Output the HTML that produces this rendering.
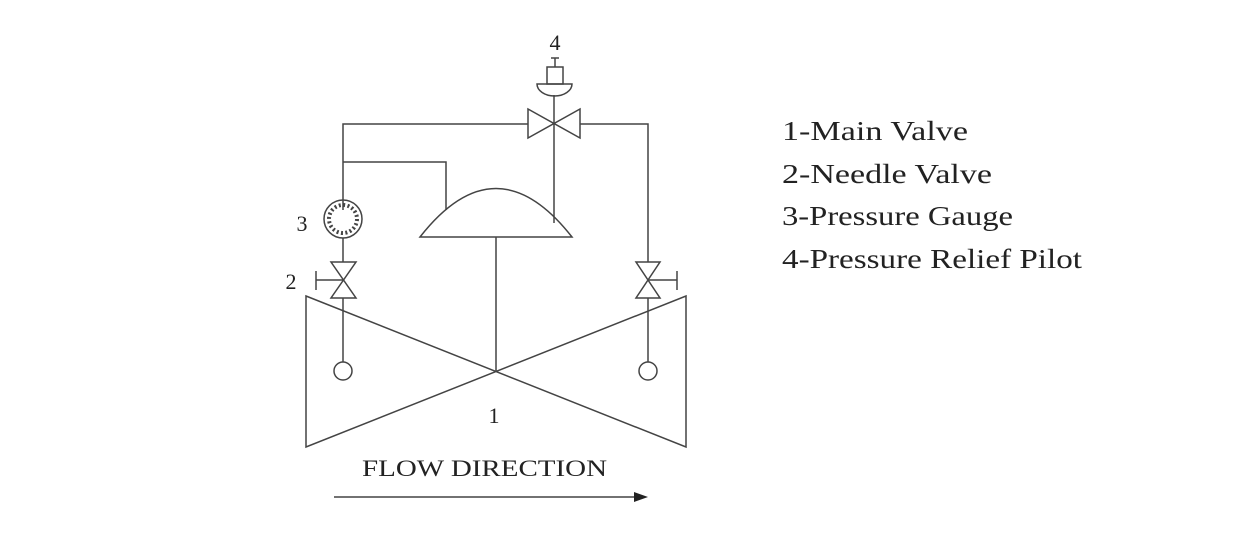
<!DOCTYPE html>
<html><head><style>body{margin:0;background:#fff}svg{display:block}text{font-family:"Liberation Serif",serif;fill:#222}</style></head>
<body>
<svg width="1237" height="540" viewBox="0 0 1237 540" xmlns="http://www.w3.org/2000/svg">
<g stroke="#444" stroke-width="1.5" fill="none">
<polyline points="343,210 343,124 528,124"/>
<polyline points="580,124 648,124 648,262"/>
<polygon points="528,109 528,138 580,109 580,138"/>
<line x1="554" y1="95" x2="554" y2="223"/>
<path d="M537,84 A17.5,12 0 0 0 572,84 Z"/>
<rect x="547" y="67" width="16" height="17"/>
<line x1="555" y1="58" x2="555" y2="67"/><line x1="551" y1="58" x2="559" y2="58"/>
<polyline points="343,162 446,162 446,210"/>
<path d="M420,237 Q496,140 572,237 Z"/>
<line x1="496" y1="237" x2="496" y2="371"/>
<circle cx="343" cy="219" r="19"/>
<circle cx="343" cy="219" r="14" stroke-dasharray="2 2.4" stroke-width="4"/>
<line x1="343" y1="238" x2="343" y2="262"/>
<polygon points="331,262 356,262 331,298 356,298"/>
<line x1="316" y1="280" x2="343" y2="280"/><line x1="316" y1="271" x2="316" y2="290"/>
<line x1="343" y1="298" x2="343" y2="362"/>
<circle cx="343" cy="371" r="9"/>
<polygon points="636,262 660,262 636,298 660,298"/>
<line x1="648" y1="280" x2="677" y2="280"/><line x1="677" y1="271" x2="677" y2="290"/>
<line x1="648" y1="298" x2="648" y2="362"/>
<circle cx="648" cy="371" r="9"/>
<polygon points="306,296 686,447 686,296 306,447"/>
<line x1="334" y1="497" x2="636" y2="497"/>
</g>
<polygon points="648,497 634,492 634,502" fill="#222"/>
<text x="555" y="50" font-size="22" text-anchor="middle">4</text>
<text x="302" y="231" font-size="22" text-anchor="middle">3</text>
<text x="291" y="289" font-size="22" text-anchor="middle">2</text>
<text x="494" y="423" font-size="22" text-anchor="middle">1</text>
<text x="362" y="476" font-size="23" textLength="245" lengthAdjust="spacingAndGlyphs">FLOW DIRECTION</text>
<g font-size="27">
<text x="782" y="140" textLength="186" lengthAdjust="spacingAndGlyphs">1-Main Valve</text>
<text x="782" y="183" textLength="210" lengthAdjust="spacingAndGlyphs">2-Needle Valve</text>
<text x="782" y="225" textLength="231" lengthAdjust="spacingAndGlyphs">3-Pressure Gauge</text>
<text x="782" y="268" textLength="300" lengthAdjust="spacingAndGlyphs">4-Pressure Relief Pilot</text>
</g>
</svg>
</body></html>
